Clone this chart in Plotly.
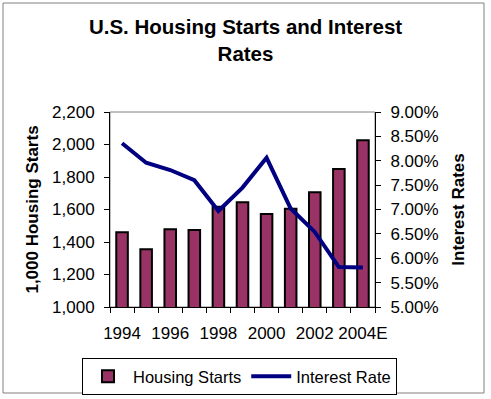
import plotly.graph_objects as go

years = ["1994", "1995", "1996", "1997", "1998", "1999", "2000", "2001", "2002", "2003", "2004E"]
housing_starts = [1460, 1355, 1478, 1474, 1617, 1644, 1572, 1605, 1706, 1850, 2026]
interest_rate = [8.36, 7.96, 7.81, 7.60, 6.97, 7.45, 8.06, 7.02, 6.54, 5.82, 5.81]
x_labels = [y if i % 2 == 0 else "" for i, y in enumerate(years)]

W, H = 491, 399
ML, MR, MT, MB = 110, 116, 112, 92
PW, PH = W - ML - MR, H - MT - MB

def px_x(v):
    return (v - ML) / PW

def px_y(v):
    return (H - MB - v) / PH

font = "Liberation Sans, Arial, sans-serif"

fig = go.Figure()
fig.add_trace(go.Bar(
    x=years, y=housing_starts, name="Housing Starts",
    marker=dict(color="#993366", line=dict(color="black", width=2)),
))
fig.add_trace(go.Scatter(
    x=years, y=interest_rate, name="Interest Rate", yaxis="y2",
    mode="lines", line=dict(color="#000080", width=4),
))

fig.update_layout(
    width=W, height=H,
    margin=dict(l=ML, r=MR, t=MT, b=MB, autoexpand=False),
    paper_bgcolor="white", plot_bgcolor="white",
    font=dict(family=font, size=17, color="black"),
    bargap=0.52,
    showlegend=True,
    title=dict(
        text="<b>U.S. Housing Starts and Interest<br>Rates</b>",
        x=0.5, xref="container", xanchor="center",
        y=1 - 34 / H, yref="container", yanchor="top",
        font=dict(size=20.5, family=font, color="black"),
    ),
    xaxis=dict(
        type="category", tickvals=years, ticktext=x_labels,
        tickson="boundaries", ticks="outside", ticklen=5, tickcolor="black",
        showline=True, linecolor="black", linewidth=1, tickangle=0,
        showgrid=False, ticklabelstandoff=11,
        tickfont=dict(size=17),
    ),
    yaxis=dict(
        range=[1000, 2200], dtick=200, tickformat=",",
        ticks="outside", ticklen=5, tickcolor="black",
        showline=True, linecolor="black", linewidth=1,
        showgrid=False, zeroline=False, ticklabelstandoff=6,
        tickfont=dict(size=17),
        title=dict(text="<b>1,000 Housing Starts</b>", standoff=9, font=dict(size=17)),
    ),
    yaxis2=dict(
        range=[5, 9], dtick=0.5, tickformat=".2f", ticksuffix="%",
        overlaying="y", side="right",
        ticks="outside", ticklen=5, tickcolor="black",
        showline=True, linecolor="black", linewidth=1,
        showgrid=False, zeroline=False, ticklabelstandoff=6,
        tickfont=dict(size=17),
        title=dict(text="<b>Interest Rates</b>", standoff=14, font=dict(size=17)),
    ),
    legend=dict(
        orientation="h", x=px_x(82), xanchor="left",
        y=px_y(358), yanchor="top", itemwidth=40,
        bordercolor="black", borderwidth=1, bgcolor="white",
        font=dict(size=16.5),
    ),
    shapes=[
        dict(type="rect", xref="paper", yref="paper", x0=0, x1=1, y0=0, y1=1,
             line=dict(color="#808080", width=1), layer="below"),
        dict(type="rect", xref="paper", yref="paper",
             x0=px_x(3), x1=px_x(484), y0=px_y(393), y1=px_y(3),
             line=dict(color="#808080", width=1), layer="below"),
    ],
)

fig.write_html("out.html", config={"displayModeBar": False},
               post_script="document.body.style.margin='0';")
